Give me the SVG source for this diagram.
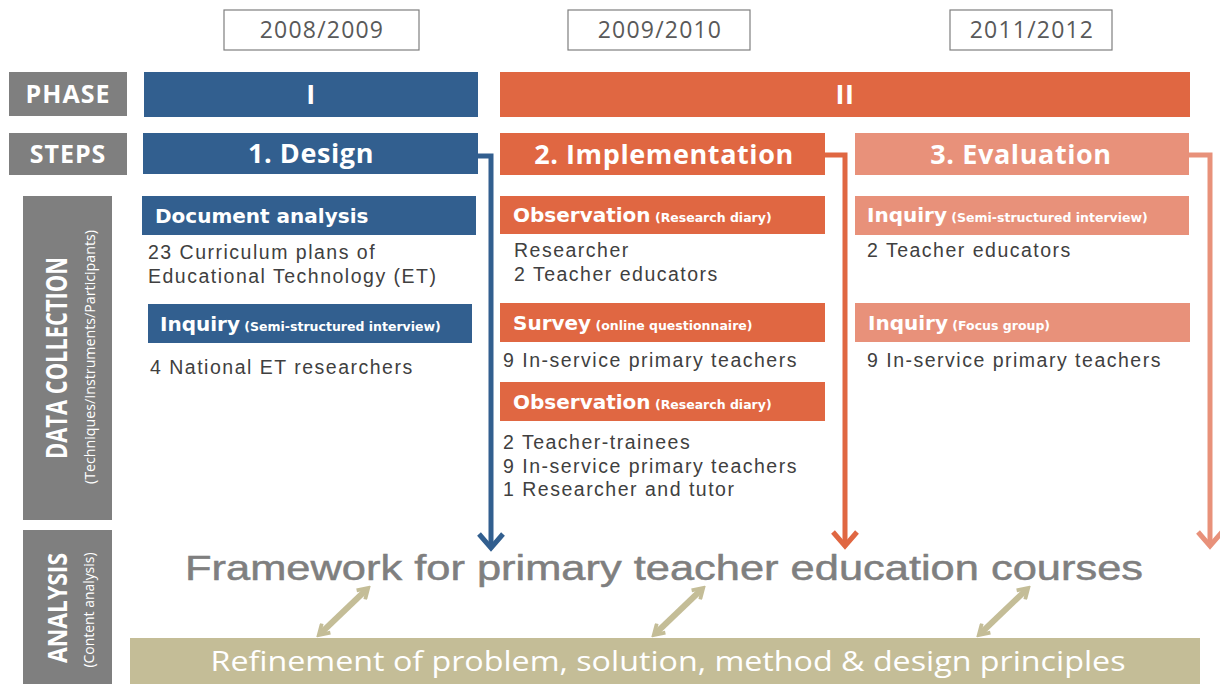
<svg xmlns="http://www.w3.org/2000/svg" width="1220" height="684" viewBox="0 0 1220 684">
<style>
.year{fill:#fff;stroke:#7f7f7f;stroke-width:1.2}
.yt{font-family:"Open Sans",sans-serif;font-size:23px;fill:#595959;text-anchor:middle;letter-spacing:1.2px}
.gray{fill:#7f7f7f}
.blue{fill:#325f8f}
.orange{fill:#e06742}
.light{fill:#e8917a}
.lab{font-family:"Open Sans",sans-serif;font-weight:bold;fill:#fff;font-size:25px;text-anchor:middle;letter-spacing:1px}
.hd{font-family:"Open Sans",sans-serif;font-weight:bold;fill:#fff;font-size:27px;text-anchor:middle;letter-spacing:0.6px}
.sub{font-family:"DejaVu Sans",Verdana,sans-serif;font-weight:bold;fill:#fff;font-size:20px}
.sm{font-size:12.5px}
.body{font-family:"Liberation Sans",Arial,sans-serif;font-size:19.5px;fill:#404040;letter-spacing:1.5px}
.conn{fill:none;stroke-width:5;stroke-linejoin:miter}
.tan{stroke:#c4bd97;stroke-width:6;fill:none}
</style>
<defs>
<marker id="dbl" viewBox="0 0 10 10" refX="6" refY="5" markerWidth="2.6" markerHeight="2.6" orient="auto-start-reverse" markerUnits="strokeWidth">
<path d="M1.5,1 L8,5 L1.5,9" fill="none" stroke="#c4bd97" stroke-width="2.4"/>
</marker>
</defs>
<rect width="1220" height="684" fill="#fff"/>

<g id="years">
<rect class="year" x="224" y="10" width="195" height="40"/>
<text class="yt" x="322" y="38">2008/2009</text>
<rect class="year" x="568" y="10" width="182" height="40"/>
<text class="yt" x="660" y="38">2009/2010</text>
<rect class="year" x="950" y="10" width="162" height="40"/>
<text class="yt" x="1032" y="38">2011/2012</text>
</g>

<g id="phase-label"><rect class="gray" x="9" y="72" width="118" height="44"/><text class="lab" x="68" y="103">PHASE</text></g>
<g id="phase-1"><rect class="blue" x="144" y="72" width="334" height="45"/><text class="hd" x="311" y="104">I</text></g>
<g id="phase-2"><rect class="orange" x="500" y="72" width="690" height="45"/><text class="hd" x="845" y="104">II</text></g>

<g id="steps-label"><rect class="gray" x="9" y="133" width="118" height="42"/><text class="lab" x="68" y="163">STEPS</text></g>
<g id="step-design"><rect class="blue" x="143" y="133" width="335" height="41"/><text class="hd" x="311" y="163">1. Design</text></g>
<g id="step-impl"><rect class="orange" x="500" y="133" width="325" height="42"/><text class="hd" x="664" y="164">2. Implementation</text></g>
<g id="step-eval"><rect class="light" x="855" y="133" width="334" height="42"/><text class="hd" x="1021" y="164">3. Evaluation</text></g>

<g id="data-collection-label">
<rect class="gray" x="23" y="196" width="89" height="324"/>
<text transform="translate(67,358) rotate(-90)" font-family="'Open Sans',sans-serif" font-weight="bold" font-size="29" fill="#fff" text-anchor="middle" textLength="202" lengthAdjust="spacingAndGlyphs">DATA COLLECTION</text>
<text transform="translate(95,357) rotate(-90)" font-family="'Open Sans',sans-serif" font-size="14" fill="#fff" text-anchor="middle" textLength="254" lengthAdjust="spacingAndGlyphs">(Techniques/Instruments/Participants)</text>
</g>
<g id="analysis-label">
<rect class="gray" x="23" y="530" width="89" height="154"/>
<text transform="translate(67,608) rotate(-90)" font-family="'Open Sans',sans-serif" font-weight="bold" font-size="27" fill="#fff" text-anchor="middle" textLength="110" lengthAdjust="spacingAndGlyphs">ANALYSIS</text>
<text transform="translate(94,610) rotate(-90)" font-family="'Open Sans',sans-serif" font-size="14" fill="#fff" text-anchor="middle" textLength="115" lengthAdjust="spacingAndGlyphs">(Content analysis)</text>
</g>

<g id="design-doc">
<rect class="blue" x="142" y="196" width="334" height="39"/>
<text class="sub" x="155" y="223">Document analysis</text>
<text class="body" x="148" y="259">23 Curriculum plans of</text>
<text class="body" x="148" y="283">Educational Technology (ET)</text>
</g>
<g id="design-inquiry">
<rect class="blue" x="148" y="304" width="324" height="39"/>
<text class="sub" x="160" y="331">Inquiry<tspan class="sm"> (Semi-structured interview)</tspan></text>
<text class="body" x="150" y="374">4 National ET researchers</text>
</g>

<g id="impl-obs1">
<rect class="orange" x="500" y="196" width="325" height="38"/>
<text class="sub" x="513" y="222">Observation<tspan class="sm"> (Research diary)</tspan></text>
<text class="body" x="514" y="257">Researcher</text>
<text class="body" x="514" y="281">2 Teacher educators</text>
</g>
<g id="impl-survey">
<rect class="orange" x="500" y="303" width="325" height="39"/>
<text class="sub" x="513" y="330">Survey<tspan class="sm"> (online questionnaire)</tspan></text>
<text class="body" x="503" y="367">9 In-service primary teachers</text>
</g>
<g id="impl-obs2">
<rect class="orange" x="500" y="382" width="325" height="39"/>
<text class="sub" x="513" y="409">Observation<tspan class="sm"> (Research diary)</tspan></text>
<text class="body" x="503" y="449">2 Teacher-trainees</text>
<text class="body" x="503" y="473">9 In-service primary teachers</text>
<text class="body" x="503" y="496">1 Researcher and tutor</text>
</g>

<g id="eval-inquiry1">
<rect class="light" x="855" y="196" width="334" height="39"/>
<text class="sub" x="867" y="222">Inquiry<tspan class="sm"> (Semi-structured interview)</tspan></text>
<text class="body" x="867" y="257">2 Teacher educators</text>
</g>
<g id="eval-inquiry2">
<rect class="light" x="855" y="303" width="335" height="39"/>
<text class="sub" x="868" y="330">Inquiry<tspan class="sm"> (Focus group)</tspan></text>
<text class="body" x="867" y="367">9 In-service primary teachers</text>
</g>

<g id="framework">
<text x="664" y="580" font-family="'Liberation Sans',Arial,sans-serif" font-size="35" fill="#7f7f7f" stroke="#7f7f7f" stroke-width="0.5" text-anchor="middle" textLength="958" lengthAdjust="spacingAndGlyphs">Framework for primary teacher education courses</text>
</g>
<g id="refinement">
<rect x="130" y="638" width="1070" height="46" fill="#c4bd97"/>
<text x="668" y="671" font-family="'Open Sans',sans-serif" font-size="28" fill="#fff" text-anchor="middle" textLength="915" lengthAdjust="spacingAndGlyphs">Refinement of problem, solution, method &amp; design principles</text>
</g>

<g id="connectors">
<path class="conn" stroke="#325f8f" d="M478,156 H491 V548"/>
<path class="conn" stroke="#325f8f" d="M479,534 L491,548 L503,534"/>
<path class="conn" stroke="#e06742" d="M825,155 H845 V546"/>
<path class="conn" stroke="#e06742" d="M833,532 L845,546 L857,532"/>
<path class="conn" stroke="#e8917a" d="M1189,155 H1210 V546"/>
<path class="conn" stroke="#e8917a" d="M1198,532 L1210,546 L1222,532"/>
<line class="tan" x1="321" y1="633" x2="366" y2="590" marker-start="url(#dbl)" marker-end="url(#dbl)"/>
<line class="tan" x1="656" y1="633" x2="701" y2="590" marker-start="url(#dbl)" marker-end="url(#dbl)"/>
<line class="tan" x1="981" y1="633" x2="1026" y2="590" marker-start="url(#dbl)" marker-end="url(#dbl)"/>
</g>
</svg>
